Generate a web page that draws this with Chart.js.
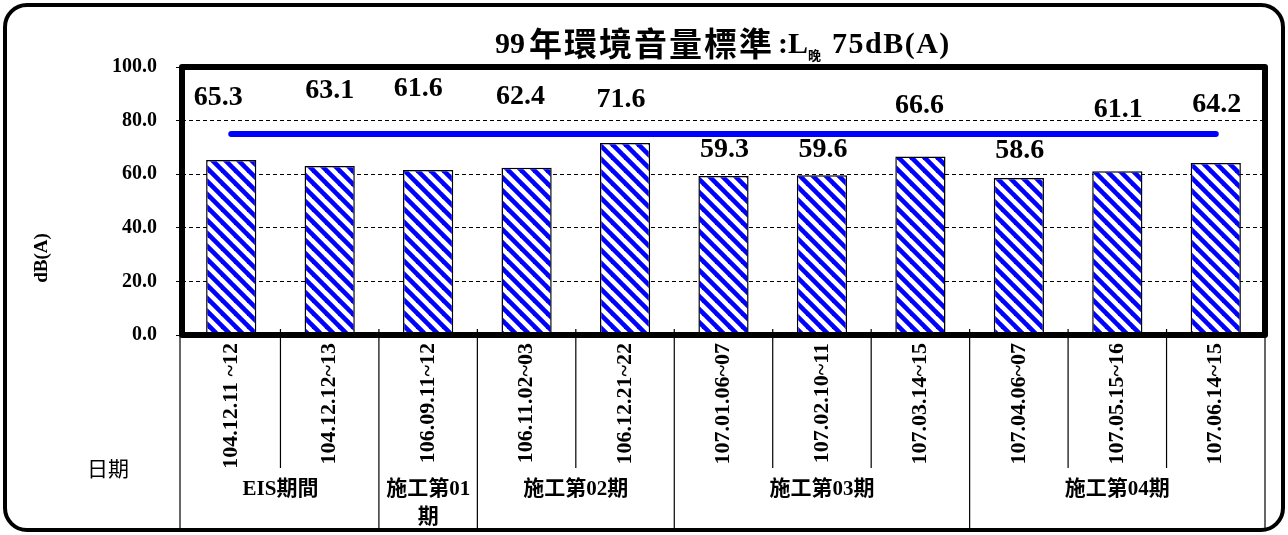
<!DOCTYPE html>
<html>
<head>
<meta charset="utf-8">
<script src="https://cdn.jsdelivr.net/npm/chart.js@4.4.1/dist/chart.umd.min.js"></script>
<style>
  html, body { margin: 0; padding: 0; background: #fff; }
</style>
</head>
<body>
<canvas id="noiseChart" width="1288" height="535"></canvas>
<script>
const dates = ['104.12.11 ~12', '104.12.12~13', '106.09.11~12', '106.11.02~03', '106.12.21~22',
  '107.01.06~07', '107.02.10~11', '107.03.14~15', '107.04.06~07', '107.05.15~16', '107.06.14~15'];
const levels = [65.3, 63.1, 61.6, 62.4, 71.6, 59.3, 59.6, 66.6, 58.6, 61.1, 64.2];
const standard = [75, 75, 75, 75, 75, 75, 75, 75, 75, 75, 75];
const phases = ['EIS期間', '施工第01\n期', '施工第02期', '施工第03期', '施工第04期'];
const phaseSizes = [2, 1, 2, 3, 3];

// where the value labels sit in the original (dB level, px shift)
const labelLevels = [88.6, 91.2, 91.9, 88.8, 87.7, 69.0, 69.0, 85.4, 68.7, 84.0, 85.8];
const labelShift = [-13, 0, -10, -6, -4, 1, 1, -1, 1, 1, 1];

const SERIF = '"Liberation Serif", "Times New Roman", "Noto Sans CJK TC", serif';
const CJK = '"Noto Sans CJK TC", "Noto Sans CJK SC", sans-serif';

const canvas = document.getElementById('noiseChart');
const ctx = canvas.getContext('2d');

function stripes() {
  const s = 13;
  const c = document.createElement('canvas');
  c.width = s; c.height = s;
  const g = c.getContext('2d');
  g.fillStyle = '#fff';
  g.fillRect(0, 0, s, s);
  g.strokeStyle = '#0000ff';
  g.lineWidth = 4.6;
  for (let k = -1; k <= 1; k++) {
    g.beginPath();
    g.moveTo(k * s - s, -s);
    g.lineTo(k * s + 2 * s, 2 * s);
    g.stroke();
  }
  return ctx.createPattern(c, 'repeat');
}

const decor = {
  id: 'decor',
  beforeDraw(chart) {
    const c = chart.ctx;
    c.save();
    c.fillStyle = '#fff';
    c.fillRect(0, 0, chart.width, chart.height);
    c.restore();
  },
  afterDraw(chart) {
    const c = chart.ctx;
    const a = chart.chartArea;
    const x = chart.scales.x;
    const y = chart.scales.y;
    c.save();

    // table under the axis
    c.strokeStyle = '#000';
    c.lineWidth = 1.2;
    const bounds = [0];
    phaseSizes.forEach(n => bounds.push(bounds[bounds.length - 1] + n));
    for (let i = 0; i <= dates.length; i++) {
      let px;
      if (i === 0) px = a.left - 2;
      else if (i === dates.length) px = a.right;
      else px = (x.getPixelForValue(i - 1) + x.getPixelForValue(i)) / 2;
      const full = bounds.includes(i);
      c.beginPath();
      c.moveTo(px, a.bottom - 6);
      c.lineTo(px, full ? 531 : 468);
      c.stroke();
    }

    // phase labels
    c.fillStyle = '#000';
    c.textAlign = 'center';
    c.textBaseline = 'middle';
    c.font = 'bold 21px ' + SERIF;
    const half = x.width / dates.length / 2;
    for (let p = 0; p < phases.length; p++) {
      const l = x.getPixelForValue(bounds[p]) - half;
      const r = x.getPixelForValue(bounds[p + 1] - 1) + half;
      phases[p].split('\n').forEach((t, j) => c.fillText(t, (l + r) / 2, 490 + j * 28));
    }

    // plot frame
    c.lineWidth = 6;
    c.lineJoin = 'round';
    c.strokeRect(a.left, a.top, a.right - a.left, a.bottom - a.top);

    // value labels
    c.font = 'bold 28px ' + SERIF;
    levels.forEach((v, i) => {
      c.fillText(v.toFixed(1), x.getPixelForValue(i) + labelShift[i], y.getPixelForValue(labelLevels[i]));
    });

    // axis captions
    c.font = '21px ' + CJK;
    c.fillText('日期', 108, 468);
    c.save();
    c.translate(42, 258);
    c.rotate(-Math.PI / 2);
    c.font = 'bold 19px ' + SERIF;
    c.fillText('dB(A)', 0, 0);
    c.restore();

    // title
    c.textAlign = 'left';
    c.textBaseline = 'alphabetic';
    c.font = 'bold 30px ' + SERIF;
    c.fillText('99', 495, 53);
    c.font = 'bold 33px ' + CJK;
    c.letterSpacing = '2px';
    c.fillText('年環境音量標準', 529, 56);
    c.letterSpacing = '0px';
    c.font = 'bold 30px ' + SERIF;
    c.fillText(':L', 778, 53);
    c.font = 'bold 13px ' + CJK;
    c.fillText('晚', 808, 60);
    c.font = 'bold 30px ' + SERIF;
    c.letterSpacing = '1.5px';
    c.fillText('75dB(A)', 832, 53);
    c.letterSpacing = '0px';

    // outer rounded frame
    c.lineWidth = 4;
    c.beginPath();
    c.roundRect(5, 5, 1278, 525, 22);
    c.stroke();
    c.restore();
  }
};

Chart.defaults.font.family = SERIF;
Chart.defaults.color = '#000';

new Chart(ctx, {
  type: 'bar',
  data: {
    labels: dates,
    datasets: [{
      label: 'dB(A)',
      data: levels,
      backgroundColor: stripes(),
      borderColor: '#000',
      borderWidth: 1.5,
      barPercentage: 0.51,
      categoryPercentage: 1,
      order: 2
    }, {
      type: 'line',
      label: '標準',
      data: standard,
      borderColor: '#0000ff',
      borderWidth: 6,
      borderCapStyle: 'round',
      pointRadius: 0,
      order: 1
    }]
  },
  options: {
    responsive: false,
    animation: false,
    devicePixelRatio: 1,
    layout: { padding: { top: 67, left: 27, right: 23, bottom: 0 } },
    plugins: {
      legend: { display: false },
      tooltip: { enabled: false }
    },
    scales: {
      x: {
        grid: { display: false },
        border: { display: false },
        ticks: {
          autoSkip: false,
          minRotation: 90,
          maxRotation: 90,
          padding: 0,
          color: '#000',
          font: { size: 22, weight: 'bold' }
        },
        afterFit(s) { s.height = 200; }
      },
      y: {
        min: 0,
        max: 100,
        border: { display: false, dash: [4, 3] },
        grid: { color: '#000', lineWidth: 1, tickLength: 6, tickBorderDash: [3, 2] },
        ticks: {
          stepSize: 20,
          padding: 19,
          color: '#000',
          font: { size: 20, weight: 'bold' },
          callback: v => v.toFixed(1)
        },
        afterFit(s) { s.width = 155; }
      }
    }
  },
  plugins: [decor]
});
</script>
</body>
</html>
